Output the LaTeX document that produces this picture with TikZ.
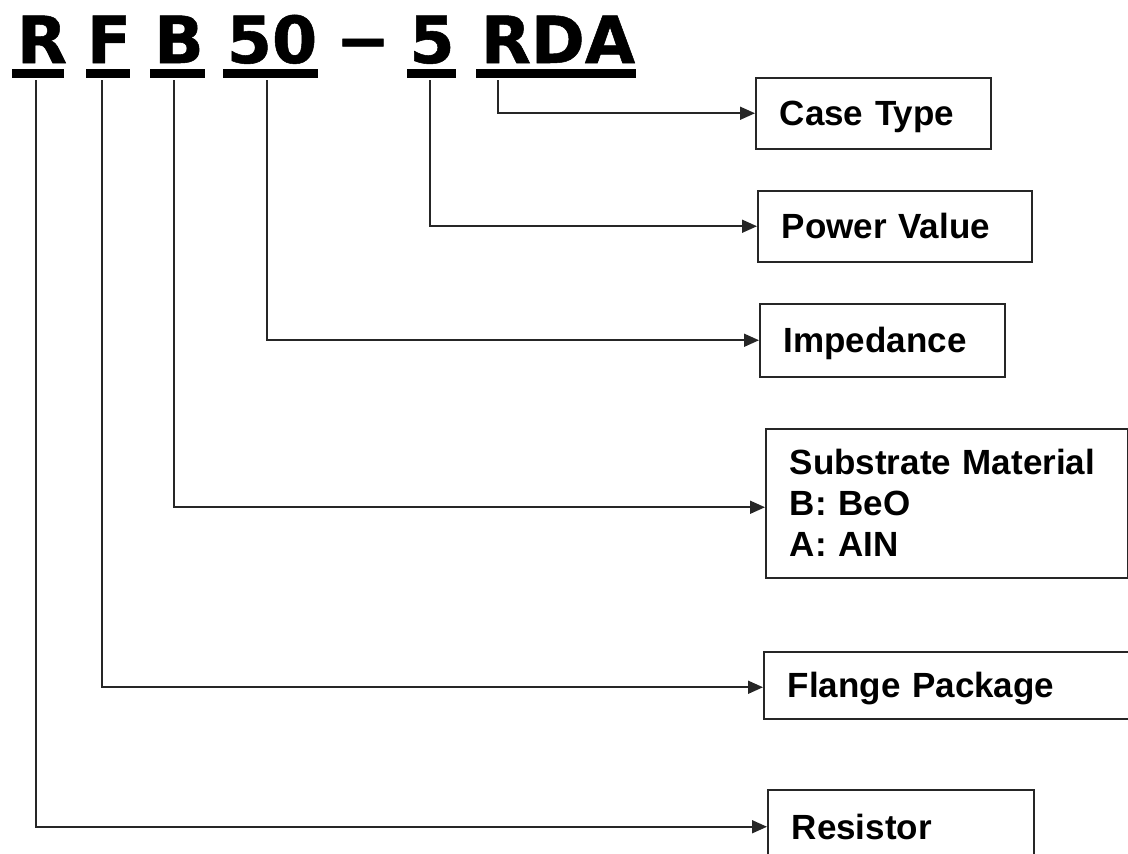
\documentclass[tikz,border=0pt]{standalone}
\usepackage{fontspec}
\setmainfont{Liberation Sans}
\newfontfamily\topfont[FakeBold=0.8]{DejaVu Sans Bold}
\usetikzlibrary{arrows.meta}
\begin{document}
\begin{tikzpicture}[x=1pt,y=-1pt,
  code/.style={font=\topfont\fontsize{65}{70}\selectfont, inner sep=0pt, anchor=base},
  uline/.style={fill=black},
  partbox/.style={draw=black!85, line width=1.5pt, font=\bfseries\fontsize{35}{41}\selectfont,
    inner xsep=24pt, inner ysep=0pt, align=left, anchor=north west},
  onebox/.style={partbox, text height=25pt, text depth=0pt},
  conn/.style={draw=black!85, line width=1.7pt, -{Triangle[length=15pt,width=13pt]}}]
\useasboundingbox (0,0) rectangle (1128,854);
% code letters
\node[code] (lR) at (42,63) {R};
\node[code] (lF) at (109,63) {F};
\node[code] (lB) at (179,63) {B};
\node[code] (l50) at (272,63) {50};
\node[code] (ldash) at (363,63) {−};
\node[code] (l5) at (432,63) {5};
\node[code] (lRDA) at (558,63) {RDA};
% underlines
\fill[uline] (12,69) rectangle (64,78);
\fill[uline] (86,69) rectangle (130,78);
\fill[uline] (150,69) rectangle (205,78);
\fill[uline] (223,69) rectangle (318,78);
\fill[uline] (407,69) rectangle (456,78);
\fill[uline] (476,69) rectangle (636,78);
% boxes
\node[onebox, text width=187pt, minimum width=235pt, minimum height=71pt] (case) at (755,77) {Case Type};
\node[onebox, text width=226pt, minimum width=274pt, minimum height=71pt] (power) at (757,190) {Power Value};
\node[onebox, text width=197pt, minimum width=245pt, minimum height=73pt] (imp) at (759,303) {Impedance};
\node[partbox, text width=314pt, minimum width=362pt, minimum height=149pt] (sub) at (765,428) {Substrate Material\\B: BeO\\A: AIN};
\node[onebox, text width=318pt, minimum width=366pt, minimum height=67pt] (flange) at (763,651) {Flange Package};
\node[onebox, text width=218pt, minimum width=266pt, minimum height=74pt] (res) at (767,789) {Resistor};
% connector start points
\coordinate (cR) at (36,80);
\coordinate (cF) at (102,80);
\coordinate (cB) at (174,80);
\coordinate (c50) at (267,80);
\coordinate (c5) at (430,80);
\coordinate (cRDA) at (498,80);
\draw[conn] (cRDA) |- (case.west);
\draw[conn] (c5) |- (power.west);
\draw[conn] (c50) |- (imp.west);
\draw[conn] (cB) |- ([yshift=-4pt]sub.west);
\draw[conn] (cF) |- ([yshift=-2pt]flange.west);
\draw[conn] (cR) |- (res.west);
\end{tikzpicture}
\end{document}
